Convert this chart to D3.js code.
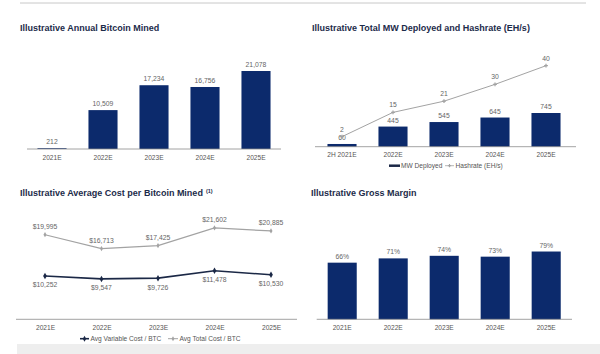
<!DOCTYPE html>
<html>
<head>
<meta charset="utf-8">
<script src="https://cdn.jsdelivr.net/npm/d3@7"></script>
<style>
  body { margin: 0; background: #fff; }
  svg { display: block; font-family: "Liberation Sans", Arial, sans-serif; }
  .title { font-weight: bold; font-size: 9px; fill: #1c2b4a; }
  .val { font-size: 6.8px; fill: #666; }
  .tick text { font-size: 6.6px; fill: #555; }
  .leg { font-size: 6.6px; fill: #555; }
</style>
</head>
<body>
<script>
const width = 600;
const height = 354;
const navy = "#0c2a6c";
const dark = "#1b2846";
const grey = "#a3a3a3";

// data
var minedYears = ["2021E", "2022E", "2023E", "2024E", "2025E"];
var minedValues = [212, 10509, 17234, 16756, 21078];

var mwYears = ["2H 2021E", "2022E", "2023E", "2024E", "2025E"];
var mwValues = [60, 445, 545, 645, 745];
var hashValues = [2, 15, 21, 30, 40];

var costYears = ["2021E", "2022E", "2023E", "2024E", "2025E"];
var variableCost = [10252, 9547, 9726, 11478, 10530];
var totalCost = [19995, 16713, 17425, 21602, 20885];

var marginYears = ["2021E", "2022E", "2023E", "2024E", "2025E"];
var marginValues = [66, 71, 74, 73, 79];

var svg = d3.select("body").append("svg")
    .attr("width", width)
    .attr("height", height);

// thin rule at the top and grey band at the bottom
svg.append("line").attr("x1", 20).attr("x2", 586).attr("y1", 3).attr("y2", 3)
    .attr("stroke", "#c8c8c8").attr("stroke-width", 1);
svg.append("rect").attr("x", 17).attr("y", 344).attr("width", 583).attr("height", 10)
    .attr("fill", "#eeeeee");

function title(x, y, txt, sup) {
    var t = svg.append("text").attr("class", "title").attr("x", x).attr("y", y).text(txt);
    if (sup) {
        t.append("tspan").attr("dx", 3).attr("dy", -3).style("font-size", "5.5px").text(sup);
    }
}

function xAxis(x, y0, x1, x2) {
    var g = svg.append("g").attr("transform", "translate(0," + y0 + ")")
        .call(d3.axisBottom(x).tickSize(0).tickPadding(6));
    g.select(".domain").remove();
    svg.append("line").attr("x1", x1).attr("x2", x2).attr("y1", y0).attr("y2", y0)
        .attr("stroke", "#8c8c8c").attr("stroke-width", 0.8);
}

function bars(cats, vals, x, y, y0, fmt) {
    svg.append("g").selectAll("rect").data(vals).enter().append("rect")
        .attr("x", (d, i) => x(cats[i]))
        .attr("width", x.bandwidth())
        .attr("y", d => y(d))
        .attr("height", d => y0 - y(d))
        .attr("fill", navy);
    svg.append("g").selectAll("text").data(vals).enter().append("text")
        .attr("class", "val")
        .attr("text-anchor", "middle")
        .attr("x", (d, i) => x(cats[i]) + x.bandwidth() / 2)
        .attr("y", d => y(d) - 4)
        .text(fmt);
}

// panel 1: annual bitcoin mined
title(20, 31, "Illustrative Annual Bitcoin Mined");
var x1 = d3.scaleBand().domain(minedYears).range([26.5, 281.5]).paddingInner(0.43).paddingOuter(0.215);
var y1 = d3.scaleLinear().domain([0, 25000]).range([149, 149 - 25000 * 78 / 21078]);
bars(minedYears, minedValues, x1, y1, 149, d3.format(","));
xAxis(x1, 149, 27, 281);

// panel 2: MW deployed and hashrate
title(312, 31, "Illustrative Total MW Deployed and Hashrate (EH/s)");
var x2 = d3.scaleBand().domain(mwYears).range([316.5, 571.5]).paddingInner(0.43).paddingOuter(0.215);
var y2 = d3.scaleLinear().domain([0, 1000]).range([146.7, 146.7 - 1000 * 33.7 / 745]);
var y2h = d3.scaleLinear().domain([0, 40]).range([140.4, 65.7]);
bars(mwYears, mwValues, x2, y2, 146.7, d3.format(","));
xAxis(x2, 146.7, 315, 576);
var cx2 = (d, i) => x2(mwYears[i]) + x2.bandwidth() / 2;
svg.append("path").datum(hashValues)
    .attr("fill", "none").attr("stroke", grey).attr("stroke-width", 1)
    .attr("d", d3.line().x(cx2).y(d => y2h(d)));
svg.append("g").selectAll("path").data(hashValues).enter().append("path")
    .attr("transform", (d, i) => "translate(" + cx2(d, i) + "," + y2h(d) + ")")
    .attr("d", d3.symbol(d3.symbolCross, 8))
    .attr("fill", grey);
svg.append("g").selectAll("text").data(hashValues).enter().append("text")
    .attr("class", "val").attr("text-anchor", "middle")
    .attr("x", cx2).attr("y", d => y2h(d) - 5)
    .text(d => d);
// legend
svg.append("line").attr("x1", 389).attr("x2", 400).attr("y1", 165.7).attr("y2", 165.7)
    .attr("stroke", dark).attr("stroke-width", 2.5);
svg.append("text").attr("class", "leg").attr("x", 401).attr("y", 168).text("MW Deployed");
svg.append("line").attr("x1", 445).attr("x2", 454).attr("y1", 165.7).attr("y2", 165.7)
    .attr("stroke", grey).attr("stroke-width", 0.8);
svg.append("path").attr("transform", "translate(449.5,165.7)").attr("d", d3.symbol(d3.symbolCross, 6)).attr("fill", grey);
svg.append("text").attr("class", "leg").attr("x", 455.5).attr("y", 168).text("Hashrate (EH/s)");

// panel 3: average cost per bitcoin
title(20, 196, "Illustrative Average Cost per Bitcoin Mined", "(1)");
var x3 = d3.scalePoint().domain(costYears).range([45, 271]);
var y3 = d3.scaleLinear().domain([0, 25000]).range([319.3, 319.3 - 25000 * 0.00423]);
xAxis(x3, 319.3, 16, 297);
var money = d => "$" + d3.format(",")(d);
function costLine(vals, color, w, above) {
    var cx = (d, i) => x3(costYears[i]);
    svg.append("path").datum(vals)
        .attr("fill", "none").attr("stroke", color).attr("stroke-width", w)
        .attr("d", d3.line().x(cx).y(d => y3(d)));
    svg.append("g").selectAll("path").data(vals).enter().append("path")
        .attr("transform", (d, i) => "translate(" + cx(d, i) + "," + y3(d) + ")")
        .attr("d", d3.symbol(d3.symbolDiamond, w > 1.2 ? 12 : 8))
        .attr("fill", color);
    svg.append("g").selectAll("text").data(vals).enter().append("text")
        .attr("class", "val").attr("text-anchor", "middle")
        .attr("x", cx).attr("y", d => above ? y3(d) - 6 : y3(d) + 11.5)
        .text(money);
}
costLine(totalCost, grey, 1.2, true);
costLine(variableCost, dark, 1.6, false);
// legend
svg.append("line").attr("x1", 80).attr("x2", 89).attr("y1", 338.7).attr("y2", 338.7)
    .attr("stroke", dark).attr("stroke-width", 1.6);
svg.append("path").attr("transform", "translate(84.5,338.7)").attr("d", d3.symbol(d3.symbolDiamond, 10)).attr("fill", dark);
svg.append("text").attr("class", "leg").attr("x", 90.5).attr("y", 341).text("Avg Variable Cost / BTC");
svg.append("line").attr("x1", 168).attr("x2", 178).attr("y1", 338.7).attr("y2", 338.7)
    .attr("stroke", grey).attr("stroke-width", 1);
svg.append("path").attr("transform", "translate(173,338.7)").attr("d", d3.symbol(d3.symbolDiamond, 7)).attr("fill", grey);
svg.append("text").attr("class", "leg").attr("x", 179.5).attr("y", 341).text("Avg Total Cost / BTC");

// panel 4: gross margin
title(311, 195.5, "Illustrative Gross Margin");
var x4 = d3.scaleBand().domain(marginYears).range([316.7, 571.7]).paddingInner(0.43).paddingOuter(0.215);
var y4 = d3.scaleLinear().domain([0, 100]).range([319.3, 319.3 - 85.8]);
bars(marginYears, marginValues, x4, y4, 319.3, d => d + "%");
xAxis(x4, 319.3, 316.7, 572);
</script>
</body>
</html>
